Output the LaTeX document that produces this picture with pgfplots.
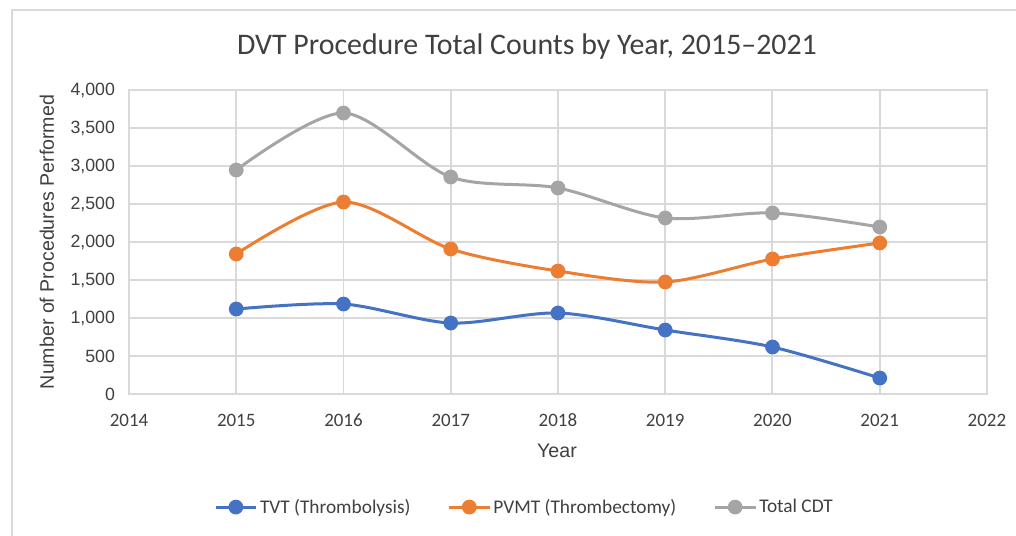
\documentclass[border=0pt]{standalone}
\usepackage{fontspec}
\setmainfont{Carlito}
\newfontfamily\arial{Liberation Sans}
\usepackage{pgfplots}
\pgfplotsset{compat=1.18}
\definecolor{cblue}{HTML}{4472C4}
\definecolor{corange}{HTML}{ED7D31}
\definecolor{cgray}{HTML}{A5A5A5}
\definecolor{gridc}{HTML}{D9D9D9}
\definecolor{textc}{HTML}{404040}
\begin{document}
\begin{tikzpicture}
\useasboundingbox (-96.75pt,-105.75pt) rectangle (665.25pt,295.5pt);
\fill[white] (-96.75pt,-105.75pt) rectangle (665.25pt,295.5pt);
\draw[gridc, line width=1.5pt] (-87.75pt,-130pt) -- (-87.75pt,288pt) -- (700pt,288pt);
\node[font=\fontsize{22.4}{26}\selectfont, text=textc] at (298.5pt,260.25pt) {DVT Procedure Total Counts by Year, 2015--2021};
\begin{axis}[
  at={(0pt,0pt)}, anchor=south west,
  scale only axis, width=643.5pt, height=228pt,
  xmin=2014, xmax=2022, ymin=0, ymax=4000,
  xtick={2014,...,2022}, ytick={0,500,...,4000},
  grid=major, major grid style={gridc, line width=1.4pt},
  axis line style={gridc, line width=1.4pt},
  major tick length=0pt,
  scaled ticks=false,
  /pgf/number format/assume math mode=true,
  yticklabel style={font=\arial\fontsize{13.3}{16}\selectfont, text=textc, /pgf/number format/1000 sep={,}, xshift=-7pt},
  xticklabel style={font=\fontsize{14.2}{17}\selectfont, text=textc, /pgf/number format/1000 sep=, yshift=-11.5pt},
  xlabel={Year}, ylabel={Number of Procedures Performed},
  label style={font=\arial\fontsize{14.7}{17}\selectfont, text=textc},
  xlabel style={at={(axis description cs:0.4988,-0.1875)}, anchor=center},
  ylabel style={at={(axis description cs:-0.0956,0.5)}, anchor=center, rotate=0},
  legend columns=3,
  legend style={at={(axis description cs:0.4615,-0.372)}, anchor=center, draw=none, fill=none,
    font=\fontsize{14.5}{17}\selectfont, text=textc,
    /tikz/every even column/.append style={column sep=26pt}},
  legend image code/.code={\draw[mark repeat=2,mark phase=2,#1] plot coordinates {(0pt,0pt) (15pt,0pt) (30pt,0pt)};},
  every axis plot/.append style={line width=2.25pt, smooth, tension=0.5, mark=*, mark size=4.4pt},
]
\addplot[cblue, mark options={fill=cblue, draw=cblue}] coordinates {(2015,1118)(2016,1184)(2017,934)(2018,1066)(2019,842)(2020,618)(2021,210)};
\addlegendentry{TVT (Thrombolysis)}
\addplot[corange, mark options={fill=corange, draw=corange}] coordinates {(2015,1842)(2016,2526)(2017,1908)(2018,1618)(2019,1474)(2020,1776)(2021,1987)};
\addlegendentry{PVMT (Thrombectomy)}
\addplot[cgray, mark options={fill=cgray, draw=cgray}] coordinates {(2015,2947)(2016,3697)(2017,2855)(2018,2711)(2019,2316)(2020,2382)(2021,2197)};
\addlegendentry{Total CDT}
\end{axis}
\end{tikzpicture}
\end{document}
